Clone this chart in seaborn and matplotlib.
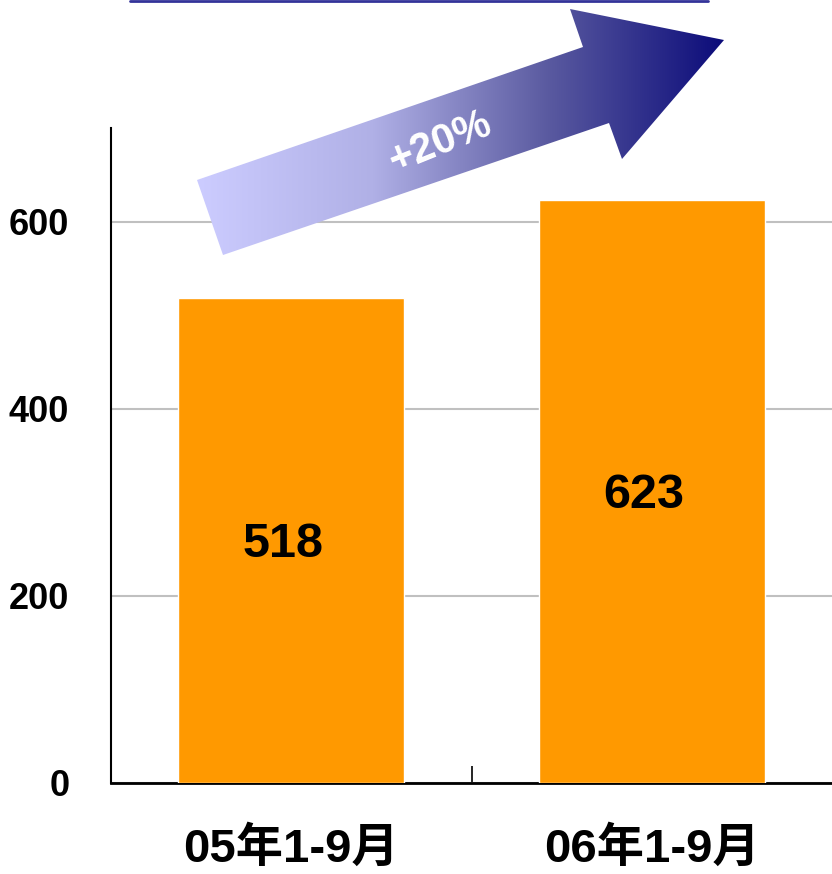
import numpy as np
import matplotlib
matplotlib.use("Agg")
import matplotlib.pyplot as plt
from matplotlib.path import Path
from matplotlib.patches import PathPatch
from matplotlib.lines import Line2D
from matplotlib.colors import LinearSegmentedColormap
import seaborn as sns

categories = ["05年1-9月", "06年1-9月"]
values = [518, 623]
yticks = [0, 200, 400, 600]
growth_label = "+20%"

sns.set_style("white")
plt.rcParams['font.family'] = ['Liberation Sans', 'Noto Sans CJK SC', 'DejaVu Sans']
plt.rcParams['text.color'] = 'black'
plt.rcParams['xtick.color'] = 'black'
plt.rcParams['ytick.color'] = 'black'

W, H = 832, 874
fig = plt.figure(figsize=(W / 100, H / 100), dpi=100)
ax = fig.add_axes([111 / W, 91 / H, 721 / W, 655 / H])

sns.barplot(x=categories, y=values, color="#ff9900", saturation=1, width=0.628, ax=ax, zorder=3)

ax.set_xlim(-0.5, 1.5)
ax.set_ylim(0, 700)
ax.set_yticks(yticks)
ax.set_yticklabels([str(v) for v in yticks], fontsize=26, fontweight='bold', color='black')
ax.tick_params(axis='y', length=0, pad=30)
ax.yaxis.grid(True, color="#c0c0c0", lw=1.5, zorder=0)
ax.set_axisbelow(True)

ax.set_xticks(range(len(categories)))
ax.set_xticklabels(categories, fontsize=34, fontweight='bold', color='black')
ax.tick_params(axis='x', which='major', length=0, pad=32)
ax.set_xticks([-0.5, 0.5], minor=True)
ax.tick_params(axis='x', which='minor', bottom=True, direction='in', length=12, width=1.2, color='black')

for s in ['top', 'right']:
    ax.spines[s].set_visible(False)
ax.spines['left'].set_color('black')
ax.spines['left'].set_linewidth(1.5)
ax.spines['bottom'].set_color('black')
ax.spines['bottom'].set_linewidth(2)
ax.set_xlabel("")
ax.set_ylabel("")

for i, v in enumerate(values):
    ax.annotate(str(v), xy=(i, v / 2), xytext=(-6, -3), textcoords='offset points',
                ha='center', va='center', fontsize=35, fontweight='bold', color='black', zorder=5)

# overlay in pixel coordinates
ov = fig.add_axes([0, 0, 1, 1], zorder=10)
ov.set_xlim(0, W)
ov.set_ylim(H, 0)
ov.axis('off')
ov.patch.set_alpha(0)

ov.add_line(Line2D([130, 708], [1, 1], color="#333399", lw=2))

pts = [(197, 180), (583, 47), (570, 9), (724, 40), (622, 159), (609, 123), (223, 255), (197, 180)]
path = Path(pts, [Path.MOVETO] + [Path.LINETO] * (len(pts) - 2) + [Path.CLOSEPOLY])
patch = PathPatch(path, facecolor='none', edgecolor='none')
ov.add_patch(patch)
cmap = LinearSegmentedColormap.from_list("arr", ["#ccccff", "#b0b0e6", "#5a5aa0", "#0c0c7a"])
grad = np.linspace(0, 1, 256).reshape(1, -1)
im = ov.imshow(grad, cmap=cmap, extent=[197, 724, 255, 9], aspect='auto', interpolation='bilinear')
im.set_clip_path(patch)
ov.set_xlim(0, W)
ov.set_ylim(H, 0)

ov.text(440, 143, growth_label, rotation=22, color='white', fontsize=30, fontweight='bold',
        ha='center', va='center', rotation_mode='anchor')

fig.savefig("out.png", dpi=100)
